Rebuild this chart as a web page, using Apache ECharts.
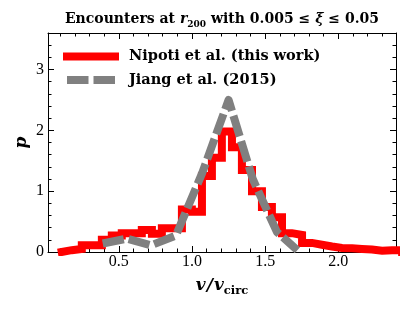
<!DOCTYPE html>
<html><head><meta charset="utf-8">
<script src="https://cdn.jsdelivr.net/npm/echarts@6/dist/echarts.min.js"></script>
<style>html,body{margin:0;padding:0;background:#fff}#c{width:415px;height:311px}</style>
</head><body><div id="c"></div>
<script>
// Histogram bin edges (v / v_circ) and probability densities (Nipoti et al.)
const binEdges = [0.110,0.178,0.247,0.315,0.384,0.452,0.520,0.589,0.657,0.726,0.794,0.862,0.931,0.999,1.068,1.136,1.204,1.273,1.341,1.410,1.478,1.546,1.615,1.683,1.752,1.820,1.888,1.957,2.025,2.094,2.162,2.230,2.299,2.367,2.436];
const nipotiValues = [0.03,0.05,0.11,0.11,0.20,0.27,0.31,0.31,0.36,0.30,0.39,0.39,0.70,0.66,1.25,1.55,1.98,1.72,1.35,1.00,0.74,0.57,0.31,0.28,0.15,0.12,0.09,0.065,0.06,0.05,0.04,0.02,0.03,0.03];
// Jiang et al. (2015) curve
const jiangX = [0.39,0.555,0.72,0.89,1.07,1.25,1.415,1.58,1.72];
const jiangY = [0.14,0.22,0.11,0.27,1.30,2.50,1.20,0.33,0.03];
// Axes
const xRange = [0.016, 2.394];
const yRange = [0, 3.6];
const xMajorTicks = [0.5,1.0,1.5,2.0];
const xMinorTicks = [0.1,0.2,0.3,0.4,0.6,0.7,0.8,0.9,1.1,1.2,1.3,1.4,1.6,1.7,1.8,1.9,2.1,2.2,2.3];
const yMajorTicks = [0,1,2,3];
const yMinorTicks = [0.2,0.4,0.6,0.8,1.2,1.4,1.6,1.8,2.2,2.4,2.6,2.8,3.2,3.4];
const seriesNames = ['Nipoti et al. (this work)','Jiang et al. (2015)'];

const SERIF = '"Liberation Serif", serif';
const BSERIF = '"DejaVu Serif", serif';

const nipotiData = [[binEdges[0], 0]];
for (let k = 0; k < nipotiValues.length; k++) nipotiData.push([binEdges[k], nipotiValues[k]]);
nipotiData.push([binEdges[nipotiValues.length], nipotiValues[nipotiValues.length-1]]);
nipotiData.push([binEdges[nipotiValues.length], 0]);
const jiangData = jiangX.map((x,i)=>[x, jiangY[i]]);

const black = {color:'#000', width:1};
function xAx(pos, ticks, len, extra) {
  return Object.assign({
    type:'value', min:xRange[0], max:xRange[1], position:pos,
    splitLine:{show:false},
    axisLine:{show:len>4, onZero:false, lineStyle:black},
    axisTick:{show:true, inside:true, length:len, customValues:ticks, lineStyle:black},
    axisLabel:{show:false}
  }, extra||{});
}
function yAx(pos, ticks, len, extra) {
  return Object.assign({
    type:'value', min:yRange[0], max:yRange[1], position:pos,
    splitLine:{show:false},
    axisLine:{show:len>4, onZero:false, lineStyle:black},
    axisTick:{show:true, inside:true, length:len, customValues:ticks, lineStyle:black},
    axisLabel:{show:false}
  }, extra||{});
}

const chart = echarts.init(document.getElementById('c'), null, {renderer:'canvas'});
chart.setOption({
  animation:false,
  backgroundColor:'#fff',
  title:{
    text:'{b|Encounters at }{bi|r}{sub|200}{b| with 0.005 ≤ }{bi|ξ}{b| ≤ 0.05}',
    left:222, top:9, textAlign:'center', padding:0,
    textStyle:{rich:{
      b:{fontFamily:BSERIF, fontWeight:'bold', fontSize:14, color:'#000', lineHeight:20},
      bi:{fontFamily:BSERIF, fontWeight:'bold', fontStyle:'italic', fontSize:14, color:'#000', lineHeight:20},
      sub:{fontFamily:BSERIF, fontSize:9, color:'#000', lineHeight:10, verticalAlign:'bottom'}
    }}
  },
  legend:{
    orient:'vertical', left:63, top:49, itemWidth:48, itemHeight:16, itemGap:8.5, padding:0,
    textStyle:{fontFamily:BSERIF, fontWeight:'bold', fontSize:14.5, color:'#000', padding:[0,0,0,9]},
    itemStyle:{opacity:0, borderWidth:0},
    data:[
      {name:seriesNames[0], lineStyle:{width:8, color:'#ff0000', cap:'square', type:'solid'}},
      {name:seriesNames[1], lineStyle:{width:8, color:'#808080', cap:'butt', type:[21.5,5]}}
    ]
  },
  grid:{left:48, right:19, top:33, bottom:59, containLabel:false},
  xAxis:[
    xAx('bottom', xMajorTicks, 6, {
      axisLabel:{show:true, customValues:xMajorTicks, formatter:v=>v.toFixed(1), color:'#000', fontFamily:SERIF, fontSize:16, margin:2},
      name:'{i|v}{s2|/}{i|v}{sub|circ}', nameLocation:'middle', nameGap:23, nameMoveOverlap:false,
      nameTextStyle:{rich:{
        i:{fontFamily:BSERIF, fontWeight:'bold', fontStyle:'italic', fontSize:17, color:'#000', lineHeight:22},
        s2:{fontFamily:BSERIF, fontWeight:'bold', fontStyle:'italic', fontSize:17, color:'#000', lineHeight:22, padding:[0,1,0,1]},
        sub:{fontFamily:BSERIF, fontWeight:'bold', fontSize:11.5, color:'#000', lineHeight:12, verticalAlign:'bottom'}
      }}
    }),
    xAx('bottom', xMinorTicks, 3.5),
    xAx('top', xMajorTicks, 6),
    xAx('top', xMinorTicks, 3.5)
  ],
  yAxis:[
    yAx('left', yMajorTicks, 6, {
      axisLabel:{show:true, customValues:yMajorTicks, color:'#000', fontFamily:SERIF, fontSize:16, margin:4},
      name:'p', nameLocation:'middle', nameGap:18, nameRotate:90, nameMoveOverlap:false,
      nameTextStyle:{fontFamily:BSERIF, fontWeight:'bold', fontStyle:'italic', fontSize:17, color:'#000'}
    }),
    yAx('left', yMinorTicks, 3.5),
    yAx('right', yMajorTicks, 6),
    yAx('right', yMinorTicks, 3.5)
  ],
  series:[
    {type:'line', name:seriesNames[0], data:nipotiData, step:'end', symbol:'none', showSymbol:false,
     xAxisIndex:0, yAxisIndex:0, z:2,
     lineStyle:{color:'#ff0000', width:8, join:'miter', cap:'square'}, itemStyle:{color:'#ff0000'}},
    {type:'line', name:seriesNames[1], data:jiangData, symbol:'none', showSymbol:false,
     xAxisIndex:0, yAxisIndex:0, z:3,
     lineStyle:{color:'#808080', width:8, type:[21.5,5], join:'round', cap:'butt'}, itemStyle:{color:'#808080'}}
  ]
});
</script></body></html>
